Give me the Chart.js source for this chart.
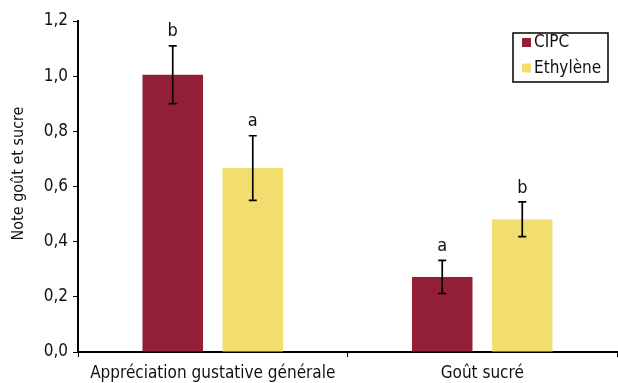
<!DOCTYPE html>
<html>
<head>
<meta charset="utf-8">
<script src="https://cdn.jsdelivr.net/npm/chart.js@4.4.1/dist/chart.umd.min.js"></script>
<style>
  html, body { margin: 0; padding: 0; background: #fff; }
  #wrap { width: 618px; height: 383px; position: relative; }
</style>
</head>
<body>
<div id="wrap"><canvas id="c"></canvas></div>
<script>
// Categories and series
const categories = ['Appréciation gustative générale', 'Goût sucré'];
const seriesNames = ['CIPC', 'Ethylène'];
const cipcValues = [1.005, 0.272];
const ethyleneValues = [0.667, 0.481];
// Half-width of the error bars
const cipcErrors = [0.105, 0.06];
const ethyleneErrors = [0.117, 0.063];
// Significance letters above each bar
const cipcLetters = ['b', 'a'];
const ethyleneLetters = ['a', 'b'];
// Y axis ticks and title
const yTicks = [0, 0.2, 0.4, 0.6, 0.8, 1.0, 1.2];
const yTitle = 'Note goût et sucre';

const FONT = '"Liberation Sans Narrow", "DejaVu Sans Condensed", "Liberation Sans", sans-serif';
const colors = ['#931f37', '#f2de6e'];

const errorsByDataset = [cipcErrors, ethyleneErrors];
const lettersByDataset = [cipcLetters, ethyleneLetters];

// Error bars with caps and letters above them
const errorBarPlugin = {
  id: 'errorBars',
  afterDatasetsDraw(chart) {
    const ctx = chart.ctx;
    const y = chart.scales.y;
    ctx.save();
    chart.data.datasets.forEach((ds, di) => {
      const meta = chart.getDatasetMeta(di);
      meta.data.forEach((bar, i) => {
        const v = ds.data[i];
        const e = errorsByDataset[di][i];
        const top = y.getPixelForValue(v + e);
        const bot = y.getPixelForValue(v - e);
        const x = bar.x;
        ctx.strokeStyle = '#000';
        ctx.lineWidth = 1.7;
        ctx.beginPath();
        ctx.moveTo(x, top); ctx.lineTo(x, bot);
        ctx.moveTo(x - 4, top); ctx.lineTo(x + 4, top);
        ctx.moveTo(x - 4, bot); ctx.lineTo(x + 4, bot);
        ctx.stroke();
        ctx.fillStyle = '#111';
        ctx.font = '18px ' + FONT;
        ctx.textAlign = 'center';
        ctx.textBaseline = 'bottom';
        ctx.fillText(lettersByDataset[di][i], x, top - 5);
      });
    });
    ctx.restore();
  }
};

// Rotated y-axis title, placed a little above the middle of the axis
const yTitlePlugin = {
  id: 'yTitle',
  afterDraw(chart) {
    const ctx = chart.ctx;
    const area = chart.chartArea;
    ctx.save();
    ctx.translate(19, (area.top + area.bottom) / 2 - 13);
    ctx.rotate(-Math.PI / 2);
    ctx.font = '16px ' + FONT;
    ctx.fillStyle = '#111';
    ctx.textAlign = 'center';
    ctx.textBaseline = 'middle';
    ctx.fillText(yTitle, 0, 0);
    ctx.restore();
  }
};

// Boxed legend in the upper right of the plot area
const boxLegendPlugin = {
  id: 'boxLegend',
  afterDraw(chart) {
    const ctx = chart.ctx;
    const area = chart.chartArea;
    const bx = area.right - 104, by = area.top + 12, bw = 95, bh = 49;
    ctx.save();
    ctx.strokeStyle = '#000';
    ctx.lineWidth = 1.5;
    ctx.strokeRect(bx, by, bw, bh);
    ctx.font = '17px ' + FONT;
    ctx.textAlign = 'left';
    ctx.textBaseline = 'middle';
    chart.data.datasets.forEach((ds, i) => {
      const cy = by + 9.5 + i * 25.5;
      ctx.fillStyle = ds.backgroundColor;
      ctx.fillRect(bx + 9, cy - 4.5, 9, 9);
      ctx.fillStyle = '#111';
      ctx.fillText(ds.label, bx + 21, cy + 0.5);
    });
    ctx.restore();
  }
};

new Chart(document.getElementById('c'), {
  type: 'bar',
  data: {
    labels: categories,
    datasets: [
      { label: seriesNames[0], data: cipcValues, backgroundColor: colors[0] },
      { label: seriesNames[1], data: ethyleneValues, backgroundColor: colors[1] }
    ]
  },
  options: {
    responsive: true,
    maintainAspectRatio: false,
    animation: false,
    categoryPercentage: 0.594,
    barPercentage: 0.756,
    layout: { padding: { top: 21, right: 1, left: 0, bottom: 0 } },
    plugins: {
      legend: { display: false },
      tooltip: { enabled: false }
    },
    scales: {
      x: {
        grid: { display: true, drawOnChartArea: false, drawTicks: true, tickLength: 5, color: '#000', lineWidth: 1 },
        border: { color: '#000', width: 2 },
        ticks: { color: '#111', font: { family: FONT, size: 17 }, padding: 6 },
        afterFit(s) { s.height = 31; }
      },
      y: {
        min: 0,
        max: 1.2,
        afterBuildTicks(s) { s.ticks = yTicks.map(v => ({ value: v })); },
        grid: { display: true, drawOnChartArea: false, drawTicks: true, tickLength: 5, color: '#000', lineWidth: 1 },
        border: { color: '#000', width: 2 },
        ticks: {
          color: '#111',
          font: { family: FONT, size: 17 },
          padding: 5,
          callback: (v) => Number(v).toFixed(1).replace('.', ',')
        },
        afterFit(s) { s.width = 78; }
      }
    }
  },
  plugins: [errorBarPlugin, yTitlePlugin, boxLegendPlugin]
});
</script>
</body>
</html>
